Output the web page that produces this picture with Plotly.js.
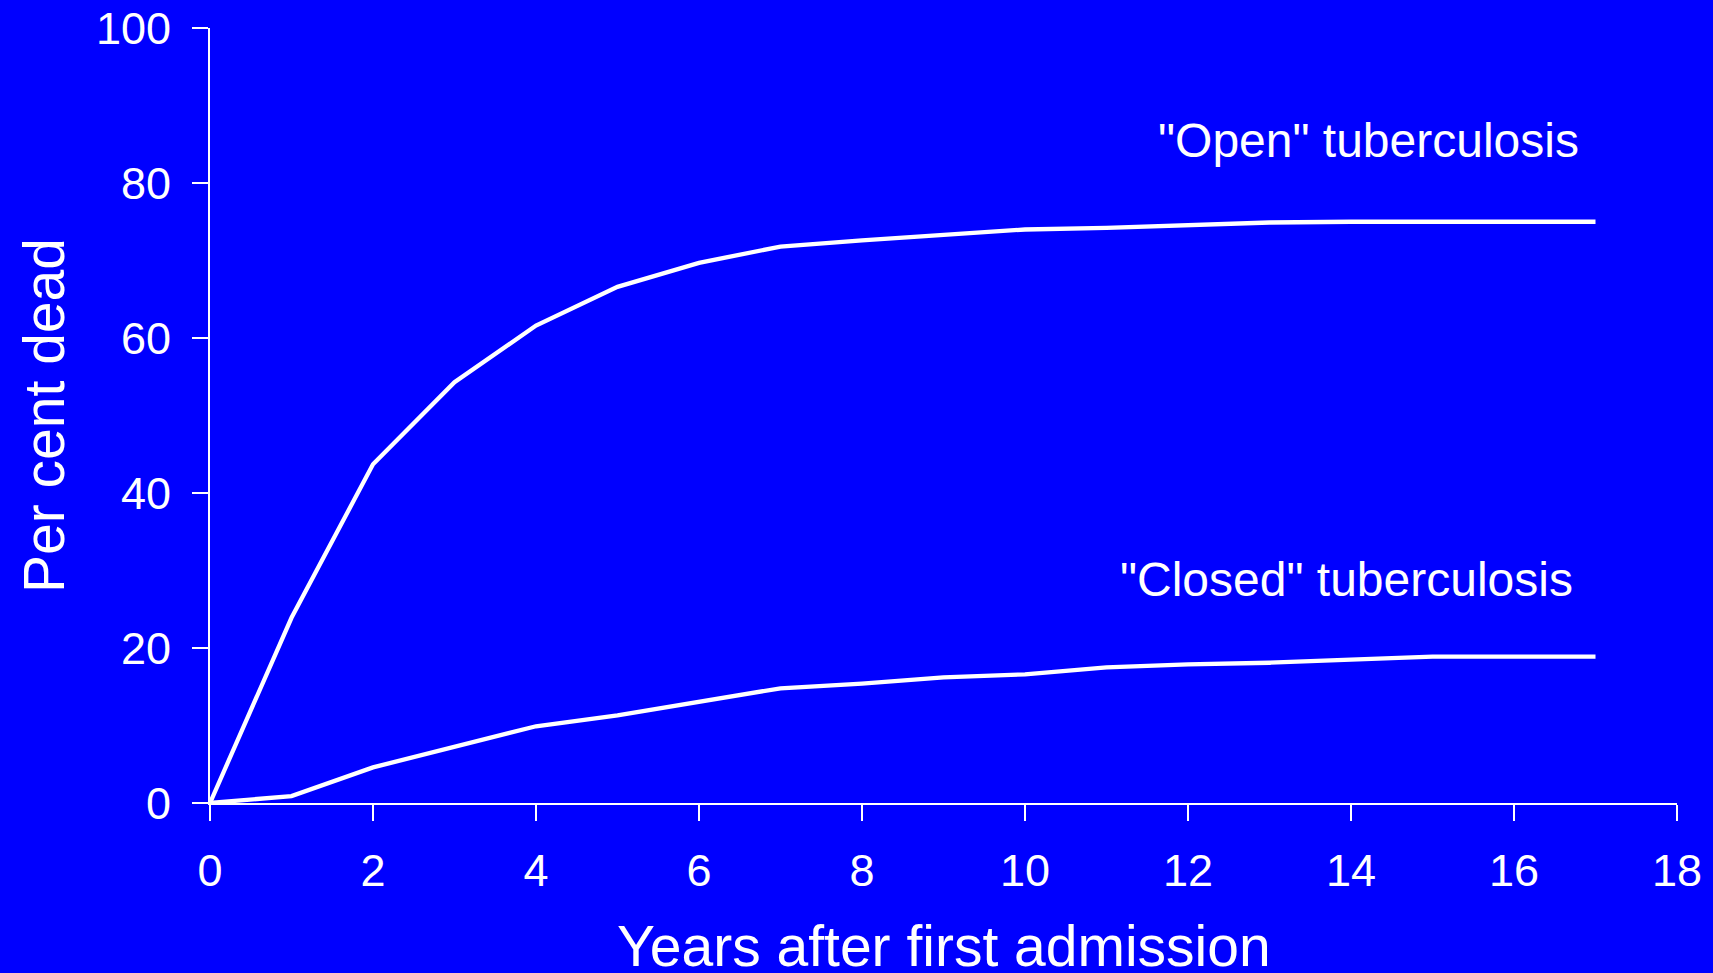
<!DOCTYPE html>
<html>
<head>
<meta charset="utf-8">
<script src="https://cdn.plot.ly/plotly-3.0.1.min.js"></script>
<style>
  html, body { margin: 0; padding: 0; background: #0000ff; }
  #chart { width: 1713px; height: 973px; }
</style>
</head>
<body>
<div id="chart"></div>
<script>
// Years after first admission
const years = [0, 1, 2, 3, 4, 5, 6, 7, 8, 9, 10, 11, 12, 13, 14, 15, 16, 17];
// Per cent dead, "Open" tuberculosis
const openDead = [0, 23.9, 43.7, 54.3, 61.6, 66.6, 69.7, 71.8, 72.6, 73.3, 74.0, 74.2, 74.6, 74.9, 75.0, 75.0, 75.0, 75.0];
// Per cent dead, "Closed" tuberculosis
const closedDead = [0, 0.9, 4.6, 7.3, 9.9, 11.3, 13.0, 14.8, 15.4, 16.2, 16.6, 17.5, 17.9, 18.1, 18.5, 18.9, 18.9, 18.9];
const seriesNames = ['"Open" tuberculosis', '"Closed" tuberculosis'];
const xTicks = [0, 2, 4, 6, 8, 10, 12, 14, 16, 18];
const yTicks = [0, 20, 40, 60, 80, 100];
const xTitle = 'Years after first admission';
const yTitle = 'Per cent dead';

const FONT = 'Liberation Sans, Arial, Helvetica, sans-serif';
const lineStyle = { color: '#ffffff', width: 4.3 };

const traces = [
  { x: years, y: openDead, type: 'scatter', mode: 'lines', name: seriesNames[0], line: lineStyle, cliponaxis: false },
  { x: years, y: closedDead, type: 'scatter', mode: 'lines', name: seriesNames[1], line: lineStyle, cliponaxis: false }
];

const layout = {
  width: 1713,
  height: 973,
  paper_bgcolor: '#0000ff',
  plot_bgcolor: '#0000ff',
  showlegend: false,
  margin: { l: 210, r: 36, t: 28, b: 170 },
  font: { family: FONT, color: '#ffffff' },
  xaxis: {
    range: [0, 18],
    tickvals: xTicks,
    ticktext: xTicks.map(String),
    showgrid: false,
    zeroline: false,
    showline: true,
    linecolor: '#ffffff',
    linewidth: 2,
    ticks: 'outside',
    ticklen: 16,
    tickwidth: 2,
    tickcolor: '#ffffff',
    ticklabelstandoff: 11,
    tickfont: { family: FONT, size: 45, color: '#ffffff' },
    automargin: false,
    fixedrange: true
  },
  yaxis: {
    range: [0, 100],
    tickvals: yTicks,
    ticktext: yTicks.map(String),
    showgrid: false,
    zeroline: false,
    showline: true,
    linecolor: '#ffffff',
    linewidth: 2,
    ticks: 'outside',
    ticklen: 16,
    tickwidth: 2,
    tickcolor: '#ffffff',
    ticklabelstandoff: 12,
    tickfont: { family: FONT, size: 45, color: '#ffffff' },
    title: { text: yTitle, font: { family: FONT, size: 57, color: '#ffffff' }, standoff: 13 },
    automargin: false,
    fixedrange: true
  },
  annotations: [
    { x: 14.21, y: 85.5, xref: 'x', yref: 'y', text: seriesNames[0], showarrow: false, xanchor: 'center', yanchor: 'middle', font: { family: FONT, size: 48, color: '#ffffff' } },
    { x: 13.95, y: 28.9, xref: 'x', yref: 'y', text: seriesNames[1], showarrow: false, xanchor: 'center', yanchor: 'middle', font: { family: FONT, size: 48, color: '#ffffff' } },
    { x: 0.5, y: -0.184, xref: 'paper', yref: 'paper', text: xTitle, showarrow: false, xanchor: 'center', yanchor: 'middle', font: { family: FONT, size: 57, color: '#ffffff' } }
  ]
};

Plotly.newPlot('chart', traces, layout, { displayModeBar: false, staticPlot: true });
</script>
</body>
</html>
